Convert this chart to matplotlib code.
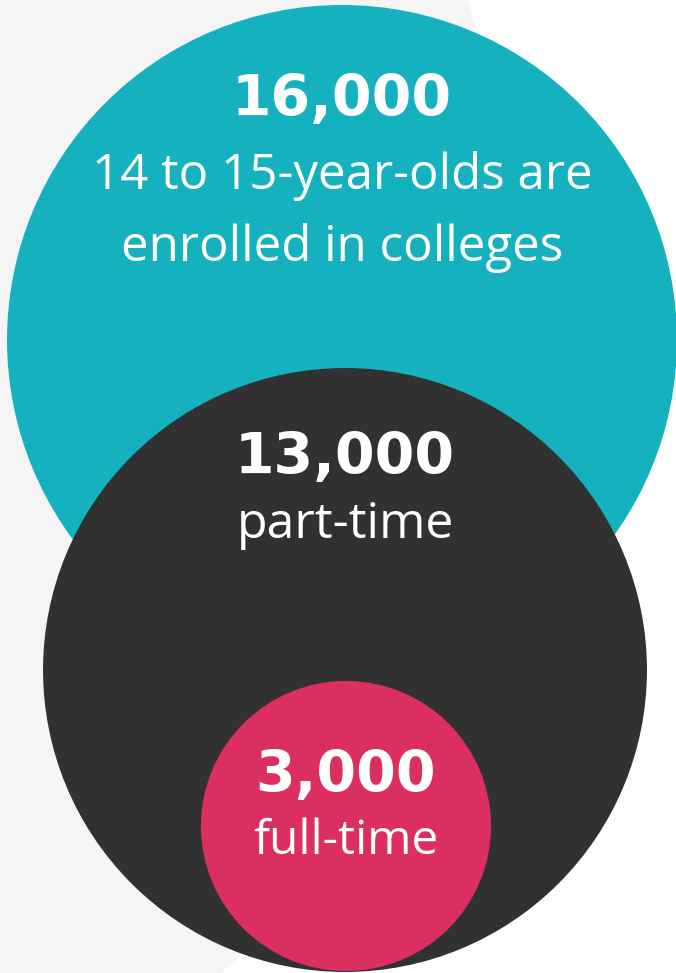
import numpy as np
import matplotlib.pyplot as plt
from matplotlib.patches import Circle

# 数据
values = [16000, 13000, 3000]
numbers = ["16,000", "13,000", "3,000"]
captions = ["14 to 15-year-olds are\nenrolled in colleges", "part-time", "full-time"]
colors = ["#16b1be", "#313131", "#da2f5f"]

W, H = 676, 973
fig = plt.figure(figsize=(W / 100, H / 100), dpi=100)
ax = fig.add_axes([0, 0, 1, 1])
ax.set_xlim(0, W)
ax.set_ylim(H, 0)
ax.set_aspect("equal")
ax.axis("off")
fig.patch.set_facecolor("white")

# 背景的浅灰色大圆
ax.add_patch(Circle((-394, 300), 912, color="#f5f5f5", lw=0, zorder=0))

# 半径按面积比例
r0 = 335
radii = [r0 * np.sqrt(v / values[0]) for v in values]
centers = [(342, 340), (345, 670), (346, 826)]
for (cx, cy), r, c, z in zip(centers, radii, colors, [1, 2, 3]):
    ax.add_patch(Circle((cx, cy), r, color=c, lw=0, zorder=z))

# 数字和说明文字
num_y = [100, 458, 777]
cap_y = [212, 525, 841]
cap_size = [35.5, 36, 34.5]
for i in range(3):
    ax.text(centers[i][0], num_y[i], numbers[i], ha="center", va="center",
            color="white", fontsize=41, fontweight="bold",
            family="DejaVu Sans", zorder=5)
    ax.text(centers[i][0], cap_y[i], captions[i], ha="center", va="center",
            color="white", fontsize=cap_size[i], family="Open Sans",
            linespacing=1.6, zorder=5)

fig.savefig("out.png", dpi=100)
